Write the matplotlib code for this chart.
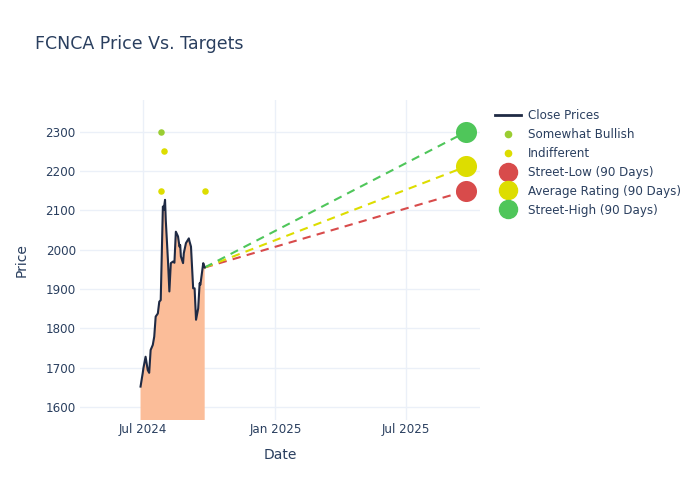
import pandas as pd
import matplotlib
matplotlib.use("Agg")
import matplotlib.pyplot as plt
import matplotlib.dates as mdates
from matplotlib.lines import Line2D

# close prices
dates = ["2024-06-28", "2024-07-01", "2024-07-02", "2024-07-05", "2024-07-08",
         "2024-07-10", "2024-07-12", "2024-07-15", "2024-07-17", "2024-07-19",
         "2024-07-22", "2024-07-24", "2024-07-26", "2024-07-29", "2024-07-30",
         "2024-08-01", "2024-08-02", "2024-08-05", "2024-08-07", "2024-08-09",
         "2024-08-12", "2024-08-14", "2024-08-16", "2024-08-19", "2024-08-21",
         "2024-08-22", "2024-08-23", "2024-08-26", "2024-08-27", "2024-08-30",
         "2024-09-03", "2024-09-04", "2024-09-06", "2024-09-09", "2024-09-11",
         "2024-09-13", "2024-09-16", "2024-09-18", "2024-09-19", "2024-09-23",
         "2024-09-25"]
prices = [1652, 1686, 1699, 1728, 1694, 1687, 1745, 1758, 1779, 1830,
          1838, 1868, 1872, 2110, 2101, 2127, 2076, 1974, 1894, 1966,
          1970, 1967, 2046, 2034, 2008, 2012, 1983, 1966, 1991, 2017,
          2029, 2021, 2008, 1902, 1902, 1822, 1851, 1915, 1911, 1966,
          1955]

# analyst ratings
bullish_dates = ["2024-07-27"]
bullish_vals = [2300]
indiff_dates = ["2024-07-30", "2024-07-27", "2024-09-25"]
indiff_vals = [2250, 2150, 2150]

# 90 day targets
target_date = "2025-09-23"
street_low = 2150
avg_rating = 2212
street_high = 2300

TXT = "#2a3f5f"
GRID = "#ebf0f8"

df = pd.DataFrame({"date": pd.to_datetime(dates), "close": prices})
last_date = df["date"].iloc[-1]
last_price = df["close"].iloc[-1]
tdate = pd.to_datetime(target_date)

plt.rcParams["font.family"] = ["DejaVu Sans"]
fig = plt.figure(figsize=(7, 5), dpi=100)
ax = fig.add_axes([80 / 700, 80 / 500, 400 / 700, 320 / 500])

ax.fill_between(df["date"], 0, df["close"], color="#fbbd99", linewidth=0, zorder=1)
ax.plot(df["date"], df["close"], color="#1f2a44", linewidth=1.5, zorder=3)

ax.plot([last_date, tdate], [last_price, street_low], color="#d84b4b", linestyle=(0, (4, 3)), linewidth=1.5, zorder=2)
ax.plot([last_date, tdate], [last_price, avg_rating], color="#dddd00", linestyle=(0, (4, 3)), linewidth=1.5, zorder=2)
ax.plot([last_date, tdate], [last_price, street_high], color="#4fc65a", linestyle=(0, (4, 3)), linewidth=1.5, zorder=2)

ax.scatter(pd.to_datetime(bullish_dates), bullish_vals, s=22, color="#9acd32", zorder=4, linewidths=0)
ax.scatter(pd.to_datetime(indiff_dates), indiff_vals, s=22, color="#dddd00", zorder=4, linewidths=0)

ax.scatter([tdate], [street_low], s=230, color="#d84b4b", zorder=5, linewidths=0)
ax.scatter([tdate], [avg_rating], s=230, color="#dddd00", zorder=5, linewidths=0)
ax.scatter([tdate], [street_high], s=230, color="#4fc65a", zorder=5, linewidths=0)

ax.set_xlim(pd.Timestamp("2024-04-05"), pd.Timestamp("2025-10-12"))
ax.set_ylim(1567, 2381)
ax.set_yticks(range(1600, 2301, 100))
ax.set_xticks(pd.to_datetime(["2024-07-01", "2025-01-01", "2025-07-01"]))
ax.xaxis.set_major_formatter(mdates.DateFormatter("%b %Y"))

for s in ax.spines.values():
    s.set_visible(False)
ax.grid(True, color=GRID, linewidth=1)
ax.set_axisbelow(True)
ax.tick_params(axis="x", length=0, labelsize=8.6, colors=TXT, pad=2)
ax.tick_params(axis="y", length=0, labelsize=8.6, colors=TXT, pad=3)

ax.set_xlabel("Date", fontsize=10, color=TXT, labelpad=9)
ax.set_ylabel("Price", fontsize=10, color=TXT, labelpad=12)

fig.text(35 / 700, 1 - 44 / 500, "FCNCA Price Vs. Targets", fontsize=12.5, color=TXT, va="center")

handles = [
    Line2D([], [], color="#1f2a44", linewidth=2),
    Line2D([], [], marker="o", linestyle="", color="#9acd32", markersize=4.5),
    Line2D([], [], marker="o", linestyle="", color="#dddd00", markersize=4.5),
    Line2D([], [], marker="o", linestyle="", color="#d84b4b", markersize=13),
    Line2D([], [], marker="o", linestyle="", color="#dddd00", markersize=13),
    Line2D([], [], marker="o", linestyle="", color="#4fc65a", markersize=13),
]
labels = ["Close Prices", "Somewhat Bullish", "Indifferent",
          "Street-Low (90 Days)", "Average Rating (90 Days)", "Street-High (90 Days)"]
leg = fig.legend(handles, labels, loc="upper left", bbox_to_anchor=(490 / 700, 1 - 104 / 500),
                 frameon=False, fontsize=8.6, handlelength=2.2, handletextpad=0.6,
                 labelspacing=0.5, borderaxespad=0)
for t in leg.get_texts():
    t.set_color(TXT)

fig.savefig("out.png", dpi=100)
